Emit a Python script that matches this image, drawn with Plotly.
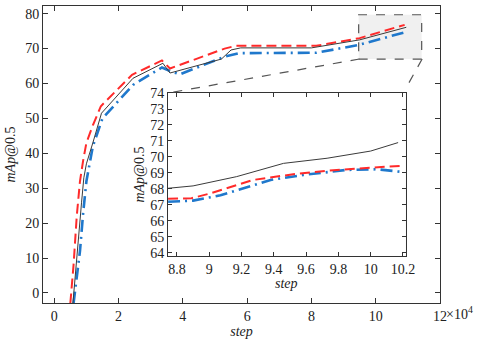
import plotly.graph_objects as go

# main curves (step in units of 1e4)
base_step = [0.58, 0.65, 0.75, 0.85, 0.92, 1.0, 1.2, 1.47, 2.45, 3.38, 3.6, 5.2, 5.5, 5.8, 8.0, 9.5, 10.95]
base_map = [-3, 5, 15, 26, 33, 37, 43, 51.5, 61.5, 65.8, 63.0, 67.0, 69.6, 70.2, 70.2, 72.5, 76.1]

red_step = [0.5, 0.6, 0.7, 0.8, 0.9, 1.0, 1.2, 1.45, 2.42, 3.35, 3.6, 5.3, 5.65, 8.15, 9.5, 10.9]
red_map = [-3, 8, 22, 32, 38, 43, 48, 53.5, 62.5, 66.6, 64.3, 70.0, 70.8, 70.8, 73.0, 76.8]

blue_step = [0.6, 0.7, 0.8, 0.9, 1.0, 1.2, 1.5, 2.45, 3.35, 3.6, 3.9, 5.3, 5.75, 8.15, 9.5, 10.95]
blue_map = [-3, 4, 12, 23, 32, 42, 50, 59.6, 64.6, 63.6, 62.6, 67.7, 68.7, 68.8, 71.1, 74.8]

# inset curves
in_base_step = [8.745, 8.9, 9.17, 9.46, 9.73, 10.0, 10.17]
in_base_map = [68.04, 68.19, 68.77, 69.6, 69.92, 70.37, 70.9]

in_red_step = [8.745, 8.89, 9.0, 9.27, 9.52, 9.79, 10.18]
in_red_map = [67.38, 67.42, 67.7, 68.56, 68.92, 69.19, 69.44]

in_blue_step = [8.745, 8.9, 9.07, 9.21, 9.38, 9.58, 9.85, 10.04, 10.18]
in_blue_map = [67.2, 67.27, 67.6, 68.04, 68.56, 68.87, 69.19, 69.23, 69.08]

inset_xticks = [8.8, 9.0, 9.2, 9.4, 9.6, 9.8, 10.0, 10.2]
inset_xlabels = ['8.8', '9', '9.2', '9.4', '9.6', '9.8', '10', '10.2']

RED = '#ff2a2a'
BLUE = '#1f78cc'
BLACK = '#3a3a3a'
FONT = 'Liberation Serif'

fig = go.Figure()


def add_set(xs, ys, color, width, dash, xa, ya):
    fig.add_trace(go.Scatter(x=xs, y=ys, mode='lines', xaxis=xa, yaxis=ya,
                             line=dict(color=color, width=width, dash=dash),
                             showlegend=False))


for xa, ya, data in [
    ('x', 'y', [(blue_step, blue_map), (red_step, red_map), (base_step, base_map)]),
    ('x2', 'y2', [(in_blue_step, in_blue_map), (in_red_step, in_red_map), (in_base_step, in_base_map)]),
]:
    add_set(*data[0], BLUE, 2.6, '12px,5px,2px,5px', xa, ya)
    add_set(*data[1], RED, 2, '10px,5px', xa, ya)
    add_set(*data[2], BLACK, 1, 'solid', xa, ya)

axis_common = dict(showgrid=False, zeroline=False, showline=True, mirror='ticks',
                   ticks='inside', linecolor='#333', tickcolor='#333', automargin=False,
                   tickfont=dict(family=FONT, size=14, color='#222'))

ins_x0, ins_x1, ins_y0, ins_y1 = 0.315, 0.9136, 0.158, 0.707

fig.update_layout(
    width=480, height=343, autosize=False,
    margin=dict(l=43, r=40, t=6, b=40),
    showlegend=False,
    plot_bgcolor='white', paper_bgcolor='white',
    font=dict(family=FONT, size=14, color='#222'),
    xaxis=dict(range=[-0.35, 12], tickvals=[0, 2, 4, 6, 8, 10, 12], ticklen=5,
               title=dict(text='<i>step</i>', standoff=2, font=dict(family=FONT, size=14)), **axis_common),
    yaxis=dict(range=[-2.87, 82.2], tickvals=list(range(0, 81, 10)), ticklen=5,
               title=dict(text='<i>mAp</i>@0.5', standoff=6, font=dict(family=FONT, size=14)), **axis_common),
    xaxis2=dict(domain=[ins_x0, ins_x1], anchor='y2', range=[8.745, 10.217],
                tickvals=inset_xticks, ticktext=inset_xlabels, ticklen=4, **axis_common),
    yaxis2=dict(domain=[ins_y0, ins_y1], anchor='x2', range=[63.8, 74],
                tickvals=list(range(64, 75)), ticklen=4,
                title=dict(text='<i>mAp</i>@0.5', standoff=2, font=dict(family=FONT, size=14)), **axis_common),
    shapes=[
        # zoom box in main axes
        dict(type='rect', xref='x', yref='y', x0=9.47, x1=11.43, y0=67.0, y1=79.7,
             fillcolor='#f0f0f0', line=dict(color='#555', width=1.2, dash='dash'), layer='below'),
        # inset background
        dict(type='rect', xref='paper', yref='paper', x0=ins_x0, x1=ins_x1, y0=ins_y0, y1=ins_y1,
             fillcolor='#f0f0f0', line=dict(width=0), layer='below'),
        # connectors
        dict(type='line', xref='paper', yref='paper', x0=0.797, y0=0.8215, x1=ins_x0, y1=ins_y1,
             line=dict(color='#555', width=1.2, dash='dash')),
        dict(type='line', xref='paper', yref='paper', x0=0.955, y0=0.8215, x1=ins_x1, y1=ins_y1 + 0.015,
             line=dict(color='#555', width=1.2, dash='dash')),
    ],
    annotations=[
        dict(text='×10<sup>4</sup>', xref='paper', yref='paper', x=1.01, y=-0.035,
             xanchor='left', yanchor='middle', showarrow=False,
             font=dict(family=FONT, size=14, color='#222')),
        # inset x title, tucked close to the tick labels
        dict(text='<i>step</i>', xref='paper', yref='paper', x=(ins_x0 + ins_x1) / 2, y=0.096,
             xanchor='center', yanchor='top', showarrow=False,
             font=dict(family=FONT, size=14, color='#222')),
    ],
)

fig.write_html('out.html', config={'responsive': False, 'displayModeBar': False},
               post_script="document.body.style.margin='0';document.body.style.overflow='hidden';")
